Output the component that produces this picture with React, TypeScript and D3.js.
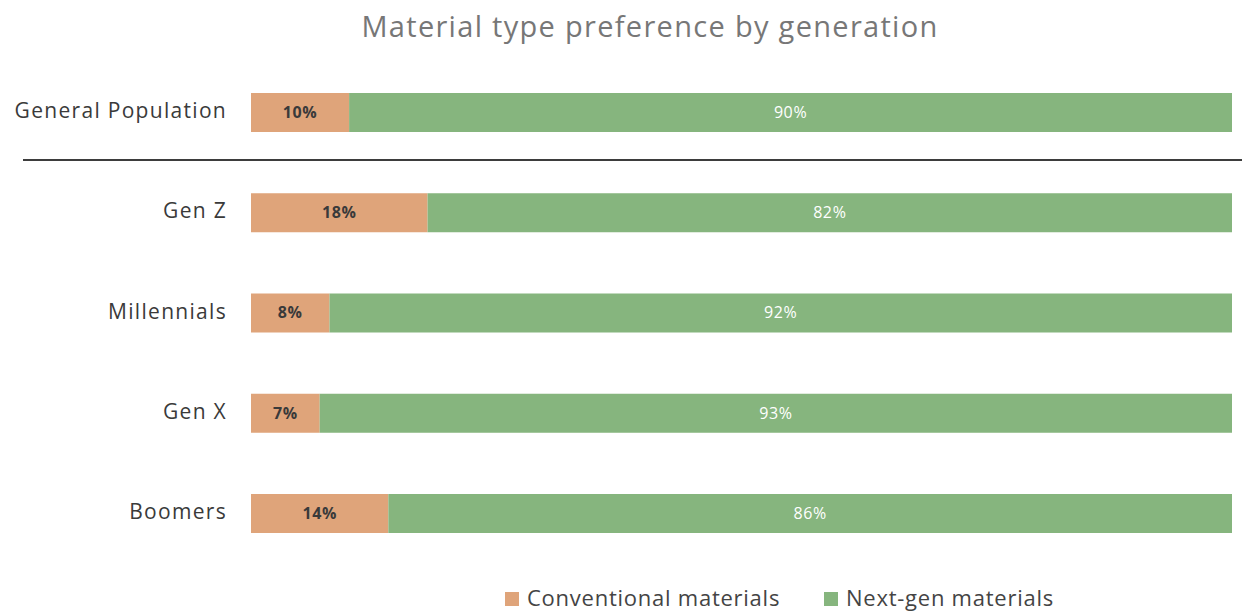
import React from "react";
import * as d3 from "d3";

const categories = ["General Population", "Gen Z", "Millennials", "Gen X", "Boomers"];
const conventional = [10, 18, 8, 7, 14];
const nextGen = [90, 82, 92, 93, 86];
const seriesNames = ["Conventional materials", "Next-gen materials"];
const colors = ["#DFA47A", "#86B57E"];

export default function App() {
  const width = 1242;
  const height = 611;
  const font = "'Open Sans', Lato, sans-serif";

  const x = d3.scaleLinear().domain([0, 100]).range([251, 1232]);
  const y = d3.scalePoint<string>().domain(categories).range([112.5, 513.5]);
  const barH = 39;

  const rows = categories.map((c, i) => ({
    cat: c,
    segs: [
      { v0: 0, v1: conventional[i], color: colors[0], text: "#3a3a3a", weight: 700 },
      { v0: conventional[i], v1: conventional[i] + nextGen[i], color: colors[1], text: "#ffffff", weight: 400 },
    ],
    vals: [conventional[i], nextGen[i]],
  }));

  const legend = [
    { x: 505, name: seriesNames[0], color: colors[0] },
    { x: 824, name: seriesNames[1], color: colors[1] },
  ];

  return (
    <svg
      width={width}
      height={height}
      style={{ position: "absolute", left: 0, top: 0, display: "block", background: "#fff" }}
      fontFamily={font}
    >
      <text x={650} y={29} textAnchor="middle" dominantBaseline="middle" fontSize={29} fill="#777" letterSpacing={1.3}>
        Material type preference by generation
      </text>

      {rows.map((r) => {
        const cy = y(r.cat)!;
        return (
          <g key={r.cat}>
            <text x={227} y={cy} textAnchor="end" dominantBaseline="middle" fontSize={21} fill="#3a3a3a" letterSpacing={1.3}>
              {r.cat}
            </text>
            {r.segs.map((s, j) => (
              <g key={j}>
                <rect x={x(s.v0)} y={cy - barH / 2} width={x(s.v1) - x(s.v0)} height={barH} fill={s.color} />
                <text
                  x={(x(s.v0) + x(s.v1)) / 2}
                  y={cy + 1}
                  textAnchor="middle"
                  dominantBaseline="middle"
                  fontSize={16}
                  fontWeight={s.weight}
                  fill={s.text}
                  letterSpacing={0.6}
                >
                  {r.vals[j]}%
                </text>
              </g>
            ))}
          </g>
        );
      })}

      <line x1={23} x2={1242} y1={160} y2={160} stroke="#3d3d3d" strokeWidth={2} />

      {legend.map((l) => (
        <g key={l.name}>
          <rect x={l.x} y={592} width={14} height={14} fill={l.color} />
          <text x={l.x + 22} y={600} dominantBaseline="middle" fontSize={22} fill="#444" letterSpacing={0.75}>
            {l.name}
          </text>
        </g>
      ))}
    </svg>
  );
}
